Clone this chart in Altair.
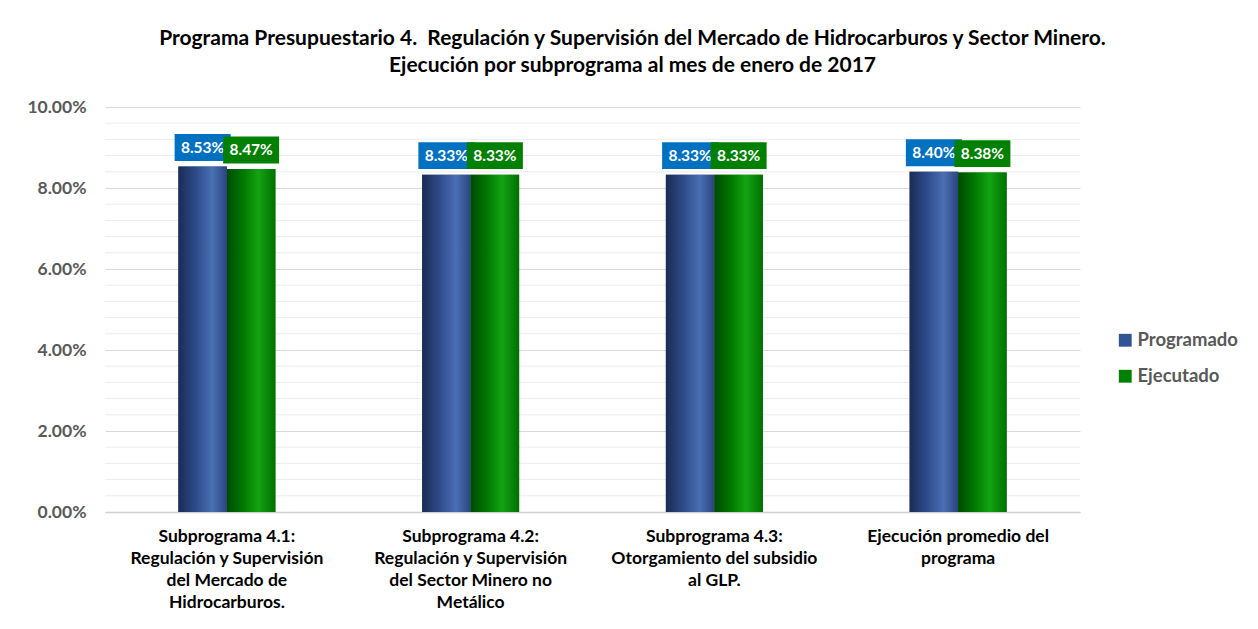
import altair as alt
import pandas as pd

categories = [
    "Subprograma 4.1:|Regulación y Supervisión|del Mercado de|Hidrocarburos.",
    "Subprograma 4.2:|Regulación y Supervisión|del Sector Minero no|Metálico",
    "Subprograma 4.3:|Otorgamiento del subsidio|al GLP.",
    "Ejecución promedio del|programa",
]
series = ["Programado", "Ejecutado"]
programado = [0.0853, 0.0833, 0.0833, 0.0840]
ejecutado = [0.0847, 0.0833, 0.0833, 0.0838]
major_ticks = [0.0, 0.02, 0.04, 0.06, 0.08, 0.10]
minor_ticks = [round(i * 0.004, 3) for i in range(26) if i % 5 != 0]

rows = []
for c, p, e in zip(categories, programado, ejecutado):
    rows.append({"cat": c, "serie": "Programado", "val": p})
    rows.append({"cat": c, "serie": "Ejecutado", "val": e})
df = pd.DataFrame(rows)

FONT = "Lato"
solid = {"Programado": "#2F5597", "Ejecutado": "#008000"}
boxcol = {"Programado": "#0070C0", "Ejecutado": "#008000"}
grads = {
    "Programado": [("#1b2c55", 0.0), ("#2d4a88", 0.35), ("#4a6fb3", 0.7), ("#2a4580", 1.0)],
    "Ejecutado": [("#004a00", 0.0), ("#007a00", 0.35), ("#14a314", 0.65), ("#007000", 1.0)],
}

x_enc = alt.X(
    "cat:N",
    sort=categories,
    scale=alt.Scale(paddingInner=0.602, paddingOuter=0.301),
    axis=alt.Axis(
        title=None,
        labelAngle=0,
        labelExpr="split(datum.label, '|')",
        labelFont=FONT,
        labelFontSize=17.5,
        labelFontWeight="bold",
        labelColor="#000000",
        labelLineHeight=22,
        labelPadding=15,
        labelLimit=400,
        ticks=False,
        domainColor="#d0d0d0",
        domainWidth=1.5,
        labelBaseline="top",
    ),
)
xo_enc = alt.XOffset("serie:N", sort=series, scale=alt.Scale(domain=series, paddingInner=0, paddingOuter=0))
y_scale = alt.Scale(domain=[0, 0.10], nice=False)
y_enc = alt.Y(
    "val:Q",
    scale=y_scale,
    axis=alt.Axis(
        title=None,
        values=major_ticks,
        format=".2%",
        labelFont=FONT,
        labelFontSize=17.5,
        labelFontWeight="bold",
        labelColor="#595959",
        labelPadding=19,
        labelOverlap=False,
        ticks=False,
        domain=False,
        grid=True,
        gridColor="#d9d9d9",
        gridWidth=1.2,
    ),
)

minor = alt.Chart(pd.DataFrame({"val": minor_ticks})).mark_rule(
    color="#ececec", strokeWidth=1
).encode(y=alt.Y("val:Q", scale=y_scale))

base = alt.Chart(df)

bars = base.mark_bar().encode(
    x=x_enc,
    xOffset=xo_enc,
    y=y_enc,
    color=alt.Color(
        "serie:N",
        sort=series,
        scale=alt.Scale(domain=series, range=[solid[s] for s in series]),
        legend=alt.Legend(
            title=None,
            orient="none",
            legendX=1011,
            legendY=224,
            symbolType="square",
            symbolSize=165,
            symbolStrokeWidth=0,
            labelFont=FONT,
            labelFontSize=18.5,
            labelFontWeight="bold",
            labelColor="#595959",
            rowPadding=17,
            labelOffset=3,
            padding=0,
        ),
    ),
)

layers = [minor, bars]
for s in series:
    g = alt.Gradient(
        gradient="linear", x1=0, x2=1, y1=0, y2=0,
        stops=[alt.GradientStop(color=c, offset=o) for c, o in grads[s]],
    )
    layers.append(
        base.transform_filter(alt.datum.serie == s)
        .mark_bar(color=g)
        .encode(x=alt.X("cat:N", sort=categories), xOffset=xo_enc, y="val:Q")
    )

box_shape = "M-1,-0.48L1,-0.48L1,0.48L-1,0.48Z"
for s in series:
    sub = base.transform_filter(alt.datum.serie == s)
    layers.append(
        sub.mark_point(shape=box_shape, filled=True, size=3136, opacity=1, color=boxcol[s], yOffset=-19)
        .encode(x=alt.X("cat:N", sort=categories), xOffset=xo_enc, y="val:Q")
    )
    layers.append(
        sub.mark_text(font=FONT, fontSize=15.5, fontWeight="bold", color="white", yOffset=-19, baseline="middle")
        .encode(x=alt.X("cat:N", sort=categories), xOffset=xo_enc, y="val:Q", text=alt.Text("val:Q", format=".2%"))
    )

chart = alt.layer(*layers).properties(
    width=975,
    height=405,
    padding={"left": 97, "top": 99, "right": 170, "bottom": 107},
    autosize=alt.AutoSizeParams(type="none"),
    title=alt.TitleParams(
        text=[
            "Programa Presupuestario 4.\u00a0 Regulación y Supervisión del Mercado de Hidrocarburos y Sector Minero.",
            "Ejecución por subprograma al mes de enero de 2017",
        ],
        font=FONT,
        fontSize=21,
        fontWeight="bold",
        color="#000000",
        anchor="middle",
        frame="group",
        dx=40,
        offset=22,
        lineHeight=27,
    ),
).configure_view(stroke=None)

chart.save("out.html", embed_options={"renderer": "svg", "actions": False})
